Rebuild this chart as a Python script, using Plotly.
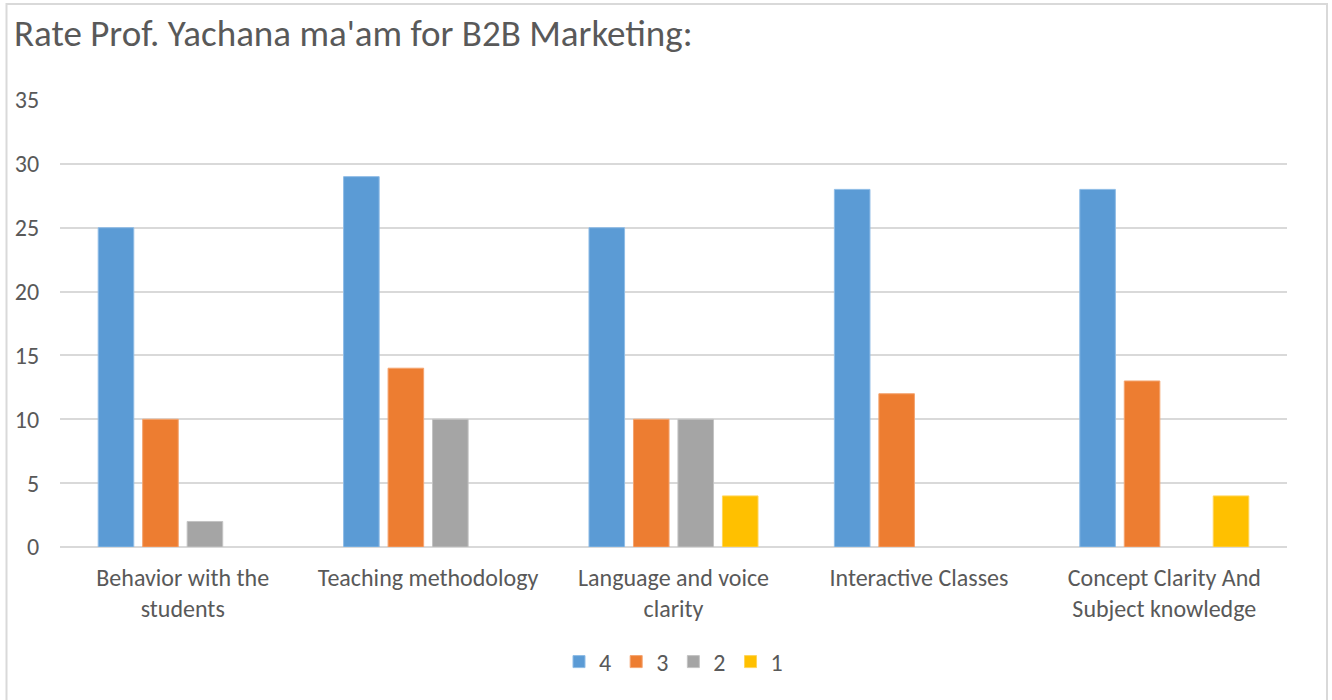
import plotly.graph_objects as go

categories = [
    "Behavior with the<br>students",
    "Teaching methodology",
    "Language and voice<br>clarity",
    "Interactive Classes",
    "Concept Clarity And<br>Subject knowledge",
]
series_names = ["4", "3", "2", "1"]
rating_4 = [25, 29, 25, 28, 28]
rating_3 = [10, 14, 10, 12, 13]
rating_2 = [2, 10, 10, 0, 0]
rating_1 = [0, 0, 4, 0, 4]
y_ticks = [0, 5, 10, 15, 20, 25, 30, 35]

colors = ["#5b9bd5", "#ed7d31", "#a5a5a5", "#ffc000"]
edge = ["#8fbce6", "#f4a470", "#c3c3c3", "#ffd55a"]

W, H = 1332, 700
ml, mr, mt, mb = 60, 45, 100, 153
pw = W - ml - mr
ph = H - mt - mb

fig = go.Figure()
for name, vals, c, e in zip(series_names, [rating_4, rating_3, rating_2, rating_1], colors, edge):
    fig.add_trace(go.Bar(
        x=categories, y=[v if v else None for v in vals], name=name,
        marker=dict(color=c, line=dict(color=e, width=1)),
    ))

font_fam = "Carlito, Calibri, Lato, 'Open Sans', sans-serif"
fig.update_layout(
    width=W, height=H,
    margin=dict(l=ml, r=mr, t=mt, b=mb, pad=0),
    paper_bgcolor="white", plot_bgcolor="white",
    barmode="group", bargap=0.275, bargroupgap=0.2,
    title=dict(text="Rate Prof. Yachana ma'am for B2B Marketing:",
               x=14 / W, xanchor="left", y=1 - 33 / H, yanchor="middle",
               font=dict(family=font_fam, size=37, color="#595959")),
    font=dict(family=font_fam, size=24, color="#595959"),
    showlegend=True,
    legend=dict(orientation="h", x=0.5, xanchor="center",
                y=(mt + ph - 662) / ph, yanchor="middle",
                font=dict(size=24, color="#595959"),
                itemwidth=30, tracegroupgap=0),
    xaxis=dict(showgrid=False, showline=False, ticks="outside", ticklen=9,
               tickcolor="rgba(0,0,0,0)", tickfont=dict(size=24, color="#595959")),
    yaxis=dict(range=[0, 35], tickvals=y_ticks, showgrid=True, gridcolor="#d9d9d9", gridwidth=1.5,
               zeroline=True, zerolinecolor="#d9d9d9", zerolinewidth=1.5,
               showline=False, ticks="outside", ticklen=15, tickcolor="rgba(0,0,0,0)",
               tickfont=dict(size=24, color="#595959")),
)

# chart outer border (Excel chart area)
def px_x(p):
    return (p - ml) / pw

def px_y(p):
    return (mt + ph - p) / ph

fig.add_shape(type="rect", xref="paper", yref="paper",
              x0=px_x(6.5), x1=px_x(1327), y0=px_y(702), y1=px_y(4),
              line=dict(color="#d9d9d9", width=2), fillcolor="rgba(0,0,0,0)", layer="below")

fig.write_html("out.html", config={"displayModeBar": False},
               post_script="document.body.style.margin='0';")
